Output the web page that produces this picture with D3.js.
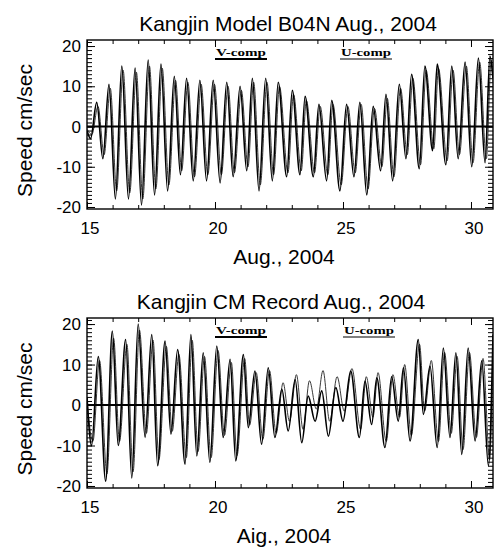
<!DOCTYPE html>
<html>
<head>
<meta charset="utf-8">
<script src="https://cdn.jsdelivr.net/npm/d3@7"></script>
<style>
  html, body { margin: 0; padding: 0; background: #fff; }
  svg { display: block; }
  text { font-family: "Liberation Sans", Arial, sans-serif; fill: #000; }
  .axis path { display: none; }
  .axis line { stroke: #000; stroke-width: 1; }
  .legend text { font-family: "Liberation Serif", "DejaVu Serif", serif; font-weight: bold; }
</style>
</head>
<body>
<script>
// model run (top panel): extremes of each tide, day of Aug. 2004 and cm/sec
const modelTimeV = [
  15.00, 15.14, 15.38, 15.62, 15.86, 16.11, 16.36, 16.62,
  16.88, 17.13, 17.39, 17.64, 17.89, 18.15, 18.41, 18.65,
  18.89, 19.15, 19.41, 19.67, 19.93, 20.20, 20.46, 20.71,
  20.98, 21.24, 21.46, 21.72, 21.98, 22.24, 22.47, 22.80,
  23.02, 23.32, 23.52, 23.84, 24.06, 24.36, 24.56, 24.88,
  25.14, 25.43, 25.66, 25.93, 26.18, 26.47, 26.68, 26.94,
  27.20, 27.46, 27.68, 27.98, 28.20, 28.50, 28.68, 29.02,
  29.25, 29.50, 29.77, 30.03, 30.29, 30.55, 30.74, 30.86
]
const modelV = [
  -1, -3, 6, -8, 10.5, -18, 15, -18,
  14.5, -19.5, 16.5, -17, 15.5, -16, 12.5, -12,
  12, -13.5, 11.5, -13.5, 11.5, -14, 11, -12.5,
  10, -11, 12, -16, 12, -13.5, 11, -12.5,
  9, -12, 7.5, -12.5, 5.5, -13.5, 6.5, -16,
  5.5, -12.5, 6, -17, 5, -11, 8, -13.5,
  10.5, -8, 13, -10.5, 15, -6, 15.5, -9.5,
  15, -8, 16, -10, 17, -9, 17.5, 12
]
const modelTimeU = [
  15.00, 15.19, 15.43, 15.67, 15.91, 16.16, 16.41, 16.67,
  16.93, 17.18, 17.44, 17.69, 17.94, 18.20, 18.46, 18.70,
  18.94, 19.20, 19.46, 19.72, 19.98, 20.25, 20.51, 20.76,
  21.03, 21.29, 21.51, 21.77, 22.03, 22.29, 22.52, 22.85,
  23.07, 23.37, 23.57, 23.89, 24.11, 24.41, 24.61, 24.93,
  25.19, 25.48, 25.71, 25.98, 26.23, 26.52, 26.73, 26.99,
  27.25, 27.51, 27.73, 28.03, 28.25, 28.55, 28.73, 29.07,
  29.30, 29.55, 29.82, 30.08, 30.34, 30.60, 30.79, 30.86
]
const modelU = [
  -0.5, -2, 5, -7, 9.5, -16, 14, -16.5,
  13.5, -18, 15, -15.5, 14.5, -14.5, 11.5, -11,
  11, -12.5, 10.5, -12, 10.5, -12, 10, -11.5,
  9, -10, 11, -14.5, 11, -12, 10, -11.5,
  8, -11, 6.5, -11.5, 5, -12, 5.5, -14.5,
  5, -11.5, 5.5, -15.5, 4.5, -10, 7, -12.5,
  9.5, -7, 12, -9.5, 14, -5.5, 14.5, -8.5,
  14, -7, 15, -9, 16, -8, 16.5, 11
]

// current meter record (bottom panel)
const recordTimeV = [
  15.00, 15.18, 15.44, 15.73, 15.99, 16.22, 16.51, 16.75,
  17.00, 17.27, 17.53, 17.76, 18.05, 18.28, 18.54, 18.83,
  19.06, 19.29, 19.54, 19.80, 20.07, 20.32, 20.59, 20.81,
  21.11, 21.30, 21.56, 21.82, 22.08, 22.34, 22.61, 22.86,
  23.13, 23.39, 23.64, 23.91, 24.17, 24.43, 24.72, 25.00,
  25.30, 25.64, 25.86, 26.12, 26.32, 26.64, 26.90, 27.16,
  27.36, 27.62, 27.94, 28.14, 28.40, 28.68, 28.92, 29.18,
  29.41, 29.64, 29.89, 30.16, 30.42, 30.68, 30.86
]
const recordV = [
  2, -10, 12, -18.8, 18.3, -10, 16.2, -18,
  20, -8, 17.4, -15, 15.8, -7.2, 13.7, -14.6,
  17.4, -12.6, 12.9, -14.2, 14.6, -8, 11.3, -13.8,
  12.5, -5.6, 8.4, -9.7, 9.2, -8, 3.9, -6.4,
  6.3, -9.3, 2.2, -4, 3.5, -7.7, 4.3, -4,
  8.4, -8, 5.9, -4.8, 6.7, -10.5, 7, -4,
  9.2, -8.9, 16.2, -2.3, 9.6, -10.5, 14.1, -8,
  12.9, -12.2, 14.1, -8.9, 10.9, -15, 17.4
]
const recordTimeU = [
  15.00, 15.23, 15.49, 15.78, 16.04, 16.27, 16.56, 16.80,
  17.05, 17.32, 17.58, 17.81, 18.10, 18.33, 18.59, 18.88,
  19.11, 19.34, 19.59, 19.85, 20.12, 20.37, 20.64, 20.86,
  21.16, 21.35, 21.61, 21.87, 22.13, 22.39, 22.66, 22.91,
  23.18, 23.44, 23.69, 23.96, 24.22, 24.48, 24.77, 25.05,
  25.35, 25.69, 25.91, 26.17, 26.37, 26.69, 26.95, 27.21,
  27.41, 27.67, 27.99, 28.19, 28.45, 28.73, 28.97, 29.23,
  29.46, 29.69, 29.94, 30.21, 30.47, 30.73, 30.86
]
const recordU = [
  1, -9, 11, -17, 16.5, -9, 15, -16.5,
  18.5, -7, 16, -13.5, 14.5, -6.5, 12.5, -13,
  16, -11.5, 12, -13, 13.5, -7.5, 10.5, -12.5,
  11.5, -5, 8, -8.5, 8.5, -7, 5.5, -4,
  7.5, -6, 6, -1, 8.5, -4, 7, -1.5,
  9, -6, 7, -3, 8, -9, 7.5, -3,
  10, -7.5, 15, -1.5, 11, -9, 13, -7,
  12, -11, 13, -8, 11.5, -13.5, 16
]

const xTicks = [15, 20, 25, 30]
const xMinorTicks = d3.range(15, 31, 1)
const yTicks = [-20, -10, 0, 10, 20]
const yMinorTicks = d3.range(-20, 22, 1)
const legendLabels = ['V-comp', 'U-comp']

const width = 497
const height = 547

const svg = d3.select('body').append('svg')
  .attr('width', width)
  .attr('height', height)

const x = d3.scaleLinear().domain([15, 30.86]).range([87, 493])

function drawPanel (opt) {
  const { id, top, bottom, title, titleX, xLabel, timeV, valV, timeU, valU, legendX } = opt

  const y = d3.scaleLinear().domain([-20.5, 21.5]).range([bottom, top])
  const g = svg.append('g')

  g.append('clipPath').attr('id', id)
    .append('rect')
    .attr('x', x.range()[0]).attr('y', top)
    .attr('width', x.range()[1] - x.range()[0]).attr('height', bottom - top)

  // minor / major ticks, all pointing inward
  const addAxis = (axis, tx, ty) => {
    g.append('g').attr('class', 'axis')
      .attr('transform', `translate(${tx}, ${ty})`)
      .call(axis)
  }
  addAxis(d3.axisLeft(y).tickValues(yMinorTicks).tickSize(-5).tickFormat(''), x.range()[0], 0)
  addAxis(d3.axisLeft(y).tickValues(yTicks).tickSize(-8).tickFormat(''), x.range()[0], 0)
  addAxis(d3.axisRight(y).tickValues(yMinorTicks).tickSize(-5).tickFormat(''), x.range()[1], 0)
  addAxis(d3.axisRight(y).tickValues(yTicks).tickSize(-8).tickFormat(''), x.range()[1], 0)
  addAxis(d3.axisBottom(x).tickValues(xMinorTicks).tickSize(-4).tickFormat(''), 0, bottom)
  addAxis(d3.axisBottom(x).tickValues(xTicks).tickSize(-7).tickFormat(''), 0, bottom)
  addAxis(d3.axisTop(x).tickValues(xMinorTicks).tickSize(-4).tickFormat(''), 0, top)
  addAxis(d3.axisTop(x).tickValues(xTicks).tickSize(-7).tickFormat(''), 0, top)

  // tick labels
  g.selectAll('.ylab').data(yTicks).enter().append('text')
    .attr('x', 81)
    .attr('y', (d) => y(d))
    .attr('dy', '0.36em')
    .attr('text-anchor', 'end')
    .style('font-size', '17px')
    .text((d) => d)
  g.selectAll('.xlab').data(xTicks).enter().append('text')
    .attr('x', (d) => x(d) + 3)
    .attr('y', bottom + 25)
    .attr('text-anchor', 'middle')
    .style('font-size', '17px')
    .text((d) => d)

  // frame
  g.append('rect')
    .attr('x', x.range()[0]).attr('y', top)
    .attr('width', x.range()[1] - x.range()[0]).attr('height', bottom - top)
    .attr('fill', 'none').attr('stroke', '#000').attr('stroke-width', 1.4)

  const line = d3.line()
    .x((d) => x(d[0]))
    .y((d) => y(d[1]))
    .curve(d3.curveMonotoneX)

  const plot = g.append('g').attr('clip-path', `url(#${id})`)

  plot.append('path')
    .attr('d', line(d3.zip(timeU, valU)))
    .attr('fill', 'none').attr('stroke', '#222').attr('stroke-width', 0.9)
  plot.append('path')
    .attr('d', line(d3.zip(timeV, valV)))
    .attr('fill', 'none').attr('stroke', '#000').attr('stroke-width', 1.6)

  // zero line
  plot.append('line')
    .attr('x1', x.range()[0]).attr('x2', x.range()[1])
    .attr('y1', y(0)).attr('y2', y(0))
    .attr('stroke', '#000').attr('stroke-width', 2)

  // legend
  const legend = g.append('g').attr('class', 'legend')
  legendLabels.forEach((label, i) => {
    legend.append('text')
      .attr('x', legendX[i])
      .attr('y', top + 16)
      .attr('textLength', 50)
      .attr('lengthAdjust', 'spacingAndGlyphs')
      .style('font-size', '11px')
      .text(label)
    legend.append('line')
      .attr('x1', legendX[i] - 1).attr('x2', legendX[i] + 51)
      .attr('y1', top + 19).attr('y2', top + 19)
      .attr('stroke', '#000').attr('stroke-width', i === 0 ? 2 : 1.2)
  })

  // titles
  g.append('text')
    .attr('x', titleX)
    .attr('y', top - 9)
    .attr('text-anchor', 'middle')
    .style('font-size', '21px')
    .text(title)
  g.append('text')
    .attr('x', 284)
    .attr('y', bottom + 55)
    .attr('text-anchor', 'middle')
    .style('font-size', '21px')
    .text(xLabel)
  g.append('text')
    .attr('transform', `translate(32, ${(top + bottom) / 2 + 6}) rotate(-90)`)
    .attr('text-anchor', 'middle')
    .style('font-size', '21px')
    .text('Speed cm/sec')
}

drawPanel({
  id: 'clip-model',
  top: 40,
  bottom: 209,
  title: 'Kangjin Model B04N Aug., 2004',
  titleX: 288,
  xLabel: 'Aug., 2004',
  timeV: modelTimeV,
  valV: modelV,
  timeU: modelTimeU,
  valU: modelU,
  legendX: [216, 341]
})

drawPanel({
  id: 'clip-record',
  top: 318,
  bottom: 488,
  title: 'Kangjin CM Record Aug., 2004',
  titleX: 281,
  xLabel: 'Aig., 2004',
  timeV: recordTimeV,
  valV: recordV,
  timeU: recordTimeU,
  valU: recordU,
  legendX: [216, 344]
})
</script>
</body>
</html>
